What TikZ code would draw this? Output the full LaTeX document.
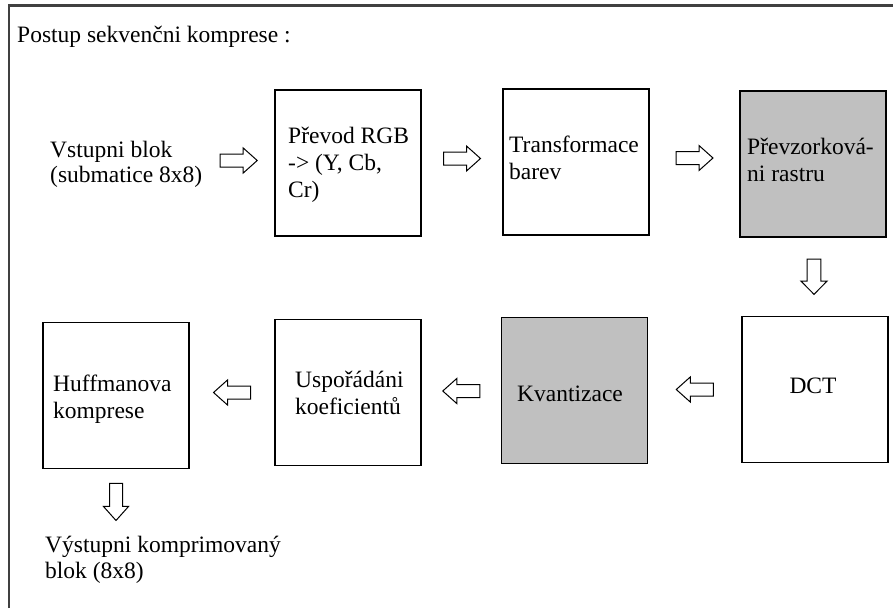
\documentclass[tikz,border=0pt]{standalone}
\usepackage{fontspec}
\setmainfont{Liberation Serif}
\usetikzlibrary{calc}
\definecolor{boxgrey}{HTML}{C0C0C0}
\definecolor{framec}{HTML}{404040}
\tikzset{
  stage/.style={draw=black, line width=1.3pt, minimum width=146pt, minimum height=146pt, inner sep=0pt, outer sep=0pt},
  greystage/.style={stage, fill=boxgrey},
  lbl/.style={anchor=base west, inner sep=0pt, font=\fontsize{23.5}{26}\selectfont},
  blockarrow/.pic={
    \draw[line width=1pt, fill=white] (-18.5,-6.5) -- (4.5,-6.5) -- (4.5,-12.5) -- (18.5,0) -- (4.5,12.5) -- (4.5,6.5) -- (-18.5,6.5) -- cycle;
  }
}
\begin{document}
\begin{tikzpicture}[x=1pt, y=-1pt]
\useasboundingbox (0,0) rectangle (893,608);
% frame (top and left sides visible)
\draw[framec, line width=2.2pt] (9,608) -- (9,5.5) -- (893,5.5);

\node[lbl] (title) at (17,42) {Postup sekvenčni komprese :};

% boxes
\node[stage]     (rgb)  at (348,163)   {};
\node[stage]     (tra)  at (576,162)   {};
\node[greystage] (pre)  at (813,164)   {};
\node[stage]     (dct)  at (815,389.5) {};
\node[greystage] (kva)  at (574.5,390.5) {};
\node[stage]     (usp)  at (348,392.5) {};
\node[stage]     (huf)  at (116,395.5) {};

% texts
\node[lbl] (in1) at (50,157) {Vstupni blok};
\node[lbl] (in2) at (50,182) {(submatice 8x8)};
\node[lbl] (rgb1) at (288,143) {Převod RGB};
\node[lbl] (rgb2) at (288,170) {-> (Y, Cb,};
\node[lbl] (rgb3) at (288,197) {Cr)};
\node[lbl] (tra1) at (509,152) {Transformace};
\node[lbl] (tra2) at (509,179) {barev};
\node[lbl] (pre1) at (747,154) {Převzorková-};
\node[lbl] (pre2) at (747,181) {ni rastru};
\node[lbl, anchor=base] (dct1) at (813,393) {DCT};
\node[lbl] (kva1) at (517,401) {Kvantizace};
\node[lbl] (usp1) at (295,387) {Uspořádáni};
\node[lbl] (usp2) at (295,414) {koeficientů};
\node[lbl] (huf1) at (53,391) {Huffmanova};
\node[lbl] (huf2) at (53,418) {komprese};
\node[lbl] (out1) at (45,552) {Výstupni komprimovaný};
\node[lbl] (out2) at (45,578) {blok (8x8)};

% block arrows between stages
\pic at ($(in2.east |- 0,160.5)!0.5!(rgb.west |- 0,160.5)$) {blockarrow};
\pic at ($(rgb.east |- 0,158.5)!0.5!(tra.west |- 0,158.5)$) {blockarrow};
\pic at ($(tra.east |- 0,158)!0.5!(pre.west |- 0,158)$) {blockarrow};
\pic[rotate=-90, yscale=1.05, xscale=0.95] at ($(pre.south)!0.5!(dct.north)$) {blockarrow};
\pic[rotate=180] at ($(dct.west |- 0,389.5)!0.5!(kva.east |- 0,389.5)$) {blockarrow};
\pic[rotate=180] at ($(kva.west |- 0,391)!0.5!(usp.east |- 0,391)$) {blockarrow};
\pic[rotate=180] at ($(usp.west |- 0,392.5)!0.5!(huf.east |- 0,392.5)$) {blockarrow};
\pic[rotate=-90] at ($(huf.south)!0.5!(out1.north -| huf.south)$) {blockarrow};
\end{tikzpicture}
\end{document}
